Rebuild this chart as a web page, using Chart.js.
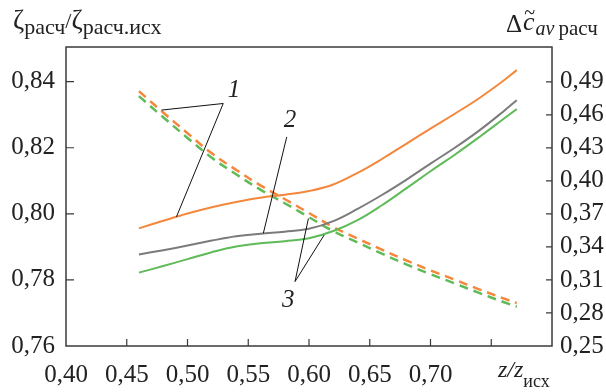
<!DOCTYPE html>
<html lang="ru">
<head>
<meta charset="UTF-8">
<title>zeta / delta c</title>
<script src="https://cdn.jsdelivr.net/npm/chart.js"></script>
<style>
  html, body { margin: 0; padding: 0; background: #fff; }
  #wrap { width: 606px; height: 392px; position: relative; }
</style>
</head>
<body>
<div id="wrap"><canvas id="chart"></canvas></div>
<script>
// z/z_исх
const zRatio = [0.46, 0.48, 0.50, 0.52, 0.54, 0.56, 0.58, 0.60, 0.62, 0.64, 0.66, 0.68, 0.70, 0.72, 0.74, 0.76, 0.771];

// left axis, solid curves
const zeta1 = [0.7956, 0.7979, 0.8001, 0.8020, 0.8036, 0.8049, 0.8058, 0.8069, 0.8089, 0.8124, 0.8166, 0.8212, 0.8258, 0.8303, 0.8350, 0.8403, 0.8435];
const zeta2 = [0.7877, 0.7890, 0.7904, 0.7919, 0.7932, 0.7940, 0.7946, 0.7955, 0.7978, 0.8015, 0.8057, 0.8103, 0.8152, 0.8200, 0.8252, 0.8310, 0.8344];
const zeta3 = [0.7822, 0.7842, 0.7863, 0.7884, 0.7901, 0.7911, 0.7917, 0.7926, 0.7948, 0.7981, 0.8026, 0.8077, 0.8129, 0.8179, 0.8232, 0.8287, 0.8317];

// right axis, dashed curves
const dc1 = [0.4815, 0.4621, 0.4433, 0.4250, 0.4100, 0.3959, 0.3835, 0.3708, 0.3580, 0.3476, 0.3375, 0.3278, 0.3187, 0.3102, 0.3015, 0.2933, 0.2890];
const dc3 = [0.4770, 0.4578, 0.4390, 0.4210, 0.4060, 0.3920, 0.3797, 0.3670, 0.3543, 0.3440, 0.3339, 0.3242, 0.3152, 0.3068, 0.2982, 0.2900, 0.2857];

// ticks
const xTicks = [0.40, 0.45, 0.50, 0.55, 0.60, 0.65, 0.70, 0.75];
const xLabelMax = 0.70;
const leftTicks = [0.76, 0.78, 0.80, 0.82, 0.84];
const rightTicks = [0.25, 0.28, 0.31, 0.34, 0.37, 0.40, 0.43, 0.46, 0.49];

// callout numbers: label position and the points its leaders go to (x, left-axis value)
const callouts = [
  { text: '1', at: [0.5382, 0.8375], from: [0.5294, 0.8334], to: [[0.4785, 0.8314], [0.4909, 0.7991]] },
  { text: '2', at: [0.5844, 0.8284], from: [0.5817, 0.8233], to: [[0.5624, 0.7941]] },
  { text: '3', at: [0.5830, 0.7739], from: [0.5885, 0.7795], to: [[0.5995, 0.7986], [0.6125, 0.7936]] }
];

const ORANGE = '#f4873b';
const GRAY = '#7b7b7b';
const GREEN = '#5fba58';
const INK = '#222';
const SERIF = "'Liberation Serif', 'DejaVu Serif', serif";

function pts(xv, yv) {
  return xv.map((x, i) => ({ x: x, y: yv[i] }));
}
function fmt(v) {
  return v.toFixed(2).replace('.', ',');
}

// draw a run of text pieces left to right
function drawRun(ctx, x, pieces) {
  pieces.forEach(p => {
    ctx.font = p.font;
    ctx.fillText(p.t, x, p.y);
    x += ctx.measureText(p.t).width + (p.gap || 0);
  });
  return x;
}

const decor = {
  id: 'decor',
  afterDatasetsDraw(chart) {
    const ctx = chart.ctx;
    const a = chart.chartArea;
    const sx = chart.scales.x, sy = chart.scales.y, sy2 = chart.scales.y2;
    ctx.save();

    // frame
    ctx.strokeStyle = '#3a3a3a';
    ctx.lineWidth = 1.5;
    ctx.strokeRect(a.left, a.top, a.right - a.left, a.bottom - a.top);

    // inner tick marks
    ctx.lineWidth = 1.2;
    ctx.beginPath();
    xTicks.forEach(v => {
      const px = sx.getPixelForValue(v);
      if (px <= a.left + 1) return;
      ctx.moveTo(px, a.bottom); ctx.lineTo(px, a.bottom - 7);
    });
    leftTicks.forEach(v => {
      const py = sy.getPixelForValue(v);
      if (py >= a.bottom - 1) return;
      ctx.moveTo(a.left, py); ctx.lineTo(a.left + 8, py);
    });
    rightTicks.forEach(v => {
      const py = sy2.getPixelForValue(v);
      if (py >= a.bottom - 1) return;
      ctx.moveTo(a.right, py); ctx.lineTo(a.right - 6, py);
    });
    ctx.stroke();

    // callouts
    ctx.strokeStyle = '#111';
    ctx.lineWidth = 1;
    ctx.fillStyle = INK;
    ctx.font = 'italic 25px ' + SERIF;
    ctx.textAlign = 'center';
    ctx.textBaseline = 'middle';
    callouts.forEach(c => {
      const fx = sx.getPixelForValue(c.from[0]), fy = sy.getPixelForValue(c.from[1]);
      ctx.beginPath();
      c.to.forEach(t => {
        ctx.moveTo(fx, fy);
        ctx.lineTo(sx.getPixelForValue(t[0]), sy.getPixelForValue(t[1]));
      });
      ctx.stroke();
      ctx.fillText(c.text, sx.getPixelForValue(c.at[0]), sy.getPixelForValue(c.at[1]));
    });

    // axis titles
    ctx.textAlign = 'left';
    ctx.textBaseline = 'alphabetic';
    const big = '27px ' + SERIF, sub = '22px ' + SERIF;
    drawRun(ctx, 13, [
      { t: 'ζ', font: big, y: 29 },
      { t: 'расч', font: sub, y: 34 },
      { t: '/', font: '22px ' + SERIF, y: 28 },
      { t: 'ζ', font: big, y: 29 },
      { t: 'расч.исх', font: sub, y: 34 }
    ]);

    let rx = drawRun(ctx, 506, [{ t: 'Δ', font: '25px ' + SERIF, y: 32, gap: 1 }]);
    ctx.font = 'italic 26px ' + SERIF;
    const cw = ctx.measureText('c').width;
    ctx.fillText('c', rx, 30);
    ctx.font = 'italic 20px ' + SERIF;
    ctx.fillText('~', rx + 1, 19);
    drawRun(ctx, rx + cw + 1, [
      { t: 'av', font: 'italic 20px ' + SERIF, y: 35, gap: 4 },
      { t: 'расч', font: '21px ' + SERIF, y: 35 }
    ]);

    drawRun(ctx, 498, [
      { t: 'z', font: 'italic 24px ' + SERIF, y: 377 },
      { t: '/', font: 'italic 24px ' + SERIF, y: 377 },
      { t: 'z', font: 'italic 24px ' + SERIF, y: 377 },
      { t: 'исх', font: '18px ' + SERIF, y: 387 }
    ]);

    ctx.restore();
  }
};

const tickFont = { family: SERIF, size: 25 };

new Chart(document.getElementById('chart'), {
  type: 'line',
  data: {
    datasets: [
      { label: '1', data: pts(zRatio, zeta1), borderColor: ORANGE, borderWidth: 2, yAxisID: 'y' },
      { label: '2', data: pts(zRatio, zeta2), borderColor: GRAY, borderWidth: 2, yAxisID: 'y' },
      { label: '3', data: pts(zRatio, zeta3), borderColor: GREEN, borderWidth: 2, yAxisID: 'y' },
      { label: '3 Δc', data: pts(zRatio, dc3), borderColor: GREEN, borderWidth: 2.5, borderDash: [9, 6], yAxisID: 'y2' },
      { label: '1 Δc', data: pts(zRatio, dc1), borderColor: ORANGE, borderWidth: 2.5, borderDash: [9, 6], yAxisID: 'y2' }
    ]
  },
  options: {
    responsive: true,
    maintainAspectRatio: false,
    animation: false,
    layout: { padding: { top: 47, left: 0, right: 0, bottom: 0 } },
    elements: {
      point: { radius: 0 },
      line: { tension: 0.4, fill: false }
    },
    plugins: { legend: { display: false }, tooltip: { enabled: false } },
    scales: {
      x: {
        type: 'linear',
        min: 0.40, max: 0.80,
        grid: { display: false, drawTicks: false },
        border: { display: false },
        afterBuildTicks: s => { s.ticks = xTicks.map(v => ({ value: v })); },
        afterFit: s => { s.height = 46; },
        ticks: {
          font: tickFont, color: INK, padding: 14, maxRotation: 0, autoSkip: false,
          callback: v => (v <= xLabelMax + 1e-6 ? fmt(v) : '')
        }
      },
      y: {
        position: 'left',
        min: 0.76, max: 0.8505,
        grid: { display: false, drawTicks: false },
        border: { display: false },
        afterBuildTicks: s => { s.ticks = leftTicks.map(v => ({ value: v })); },
        afterFit: s => { s.width = 66; },
        ticks: { font: tickFont, color: INK, padding: 11, callback: v => fmt(v) }
      },
      y2: {
        position: 'right',
        min: 0.25, max: 0.5216,
        grid: { display: false, drawTicks: false },
        border: { display: false },
        afterBuildTicks: s => { s.ticks = rightTicks.map(v => ({ value: v })); },
        afterFit: s => { s.width = 54; },
        ticks: { font: tickFont, color: INK, padding: 8, callback: v => fmt(v) }
      }
    }
  },
  plugins: [decor]
});
</script>
</body>
</html>
